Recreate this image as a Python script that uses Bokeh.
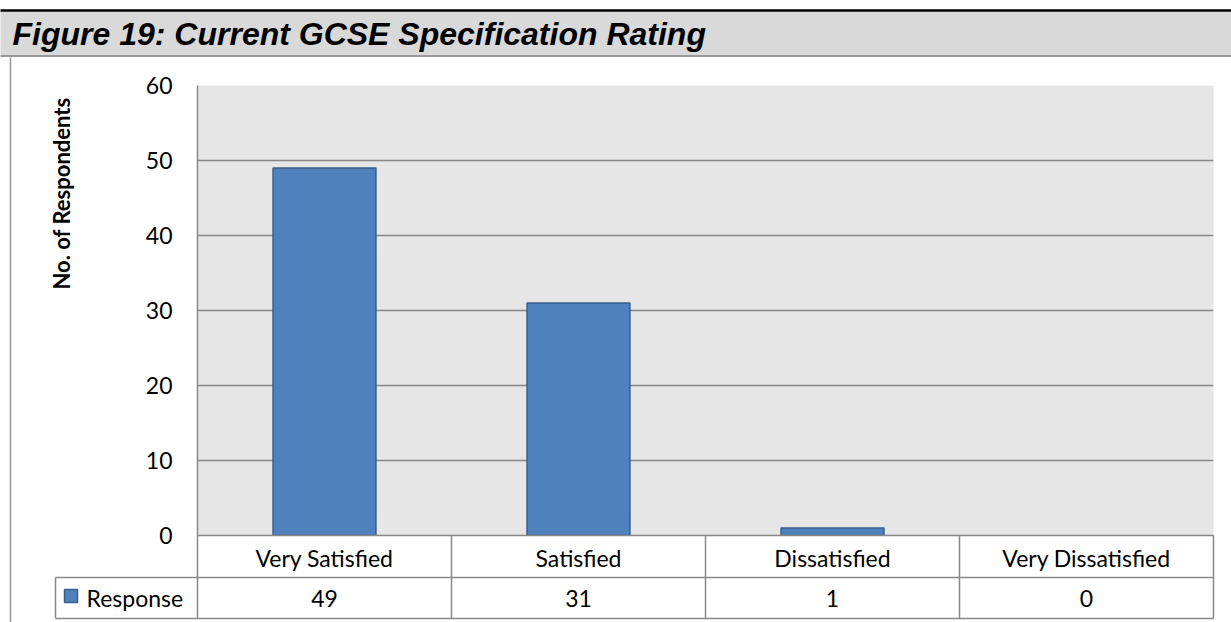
from math import pi
from bokeh.plotting import figure
from bokeh.models import FactorRange, Range1d, FixedTicker, ColumnDataSource
from bokeh.core.properties import value
from bokeh.embed import file_html
from bokeh.resources import INLINE

# ---------------- data ----------------
title_text = "Figure 19:  Current GCSE Specification Rating"
categories = ["Very Satisfied", "Satisfied", "Dissatisfied", "Very Dissatisfied"]
responses = [49, 31, 1, 0]
series_name = "Response"
y_ticks = [0, 10, 20, 30, 40, 50, 60]
y_label = "No. of Respondents"

# ---------------- layout (page pixels) ----------------
W, H = 1231, 622
PL, PT, PR, PB = 197, 85, 1213, 535   # plot frame in page pixels
FW, FH = PR - PL, PB - PT
NCAT = len(categories)
YMAX = y_ticks[-1]

def dx(px):
    return (px - PL) / FW * NCAT

def dy(py):
    return (PB - py) / FH * YMAX

GRID = "#888888"
BAR = "#4f81bd"
BAR_LINE = "#385d8a"
FONT = "Lato"
FS = "23px"

p = figure(width=W, height=H,
           x_range=FactorRange(factors=categories, range_padding=0, factor_padding=0),
           y_range=Range1d(0, YMAX),
           output_backend="svg", toolbar_location=None,
           min_border_left=PL, min_border_top=PT,
           min_border_right=W - PR, min_border_bottom=H - PB)
p.outline_line_color = None
p.background_fill_color = "#e6e6e6"
p.border_fill_color = "white"

# grid
p.xgrid.grid_line_color = None
p.ygrid.ticker = FixedTicker(ticks=y_ticks)
p.ygrid.grid_line_color = GRID
p.ygrid.grid_line_width = 1.5

# y axis
p.yaxis.ticker = FixedTicker(ticks=y_ticks)
p.yaxis.major_tick_out = 0
p.yaxis.major_tick_in = 0
p.yaxis.minor_tick_out = 0
p.yaxis.minor_tick_in = 0
p.yaxis.major_label_standoff = 25
p.yaxis.axis_line_color = GRID
p.yaxis.axis_line_width = 1.5
p.yaxis.major_label_text_font = FONT
p.yaxis.major_label_text_font_size = FS
p.yaxis.major_label_text_color = "black"

# x axis (category row of the data table)
p.xaxis.major_tick_out = 0
p.xaxis.major_tick_in = 0
p.xaxis.major_label_standoff = 8
p.xaxis.axis_line_color = GRID
p.xaxis.axis_line_width = 1.5
p.xaxis.major_label_text_font = FONT
p.xaxis.major_label_text_font_size = FS
p.xaxis.major_label_text_color = "black"

# bars
bar_src = ColumnDataSource(dict(
    x=categories, top=responses,
    la=[1.0 if v > 0 else 0.0 for v in responses]))
p.vbar(x="x", top="top", width=0.405, bottom=0, source=bar_src,
       fill_color=BAR, line_color=BAR_LINE, line_alpha="la", line_width=1.5)

# ---------------- title bar ----------------
p.quad(left=dx(0), right=dx(1240), top=dy(11), bottom=dy(55.5),
       fill_color="#d9d9d9", line_color=None, level="overlay")
p.segment(x0=dx(0), x1=dx(1240), y0=dy(10), y1=dy(10),
          line_color="black", line_width=2.5, level="overlay")
p.segment(x0=dx(0), x1=dx(1240), y0=dy(55.5), y1=dy(55.5),
          line_color="#999999", line_width=2, level="overlay")
p.text(x=[dx(12)], y=[dy(33)], text=[title_text],
       text_font=value("Liberation Sans"), text_font_style="bold italic",
       text_font_size="32px", text_align="left", text_baseline="middle",
       text_color="black", level="overlay")

# chart box left border
p.segment(x0=dx(10), x1=dx(10), y0=dy(57), y1=dy(640),
          line_color="#999999", line_width=1.5, level="overlay")

# y axis title
p.text(x=[dx(61)], y=[dy(193)], text=[y_label], angle=pi / 2,
       text_font=value(FONT), text_font_style="bold", text_font_size="22px",
       text_align="center", text_baseline="middle", text_color="black",
       level="overlay")

# ---------------- data table ----------------
ROW1, ROW2 = 577, 618
bounds = list(range(NCAT + 1))
p.segment(x0=bounds, x1=bounds, y0=[dy(PB)] * len(bounds), y1=[dy(ROW2)] * len(bounds),
          line_color=GRID, line_width=1.5, level="overlay")
p.segment(x0=[dx(55), dx(55)], x1=[dx(55), NCAT], y0=[dy(ROW1), dy(ROW2)],
          y1=[dy(ROW2), dy(ROW2)], line_color=GRID, line_width=1.5, level="overlay")
p.segment(x0=dx(55), x1=NCAT, y0=dy(ROW1), y1=dy(ROW1),
          line_color=GRID, line_width=1.5, level="overlay")

# legend key in table
p.quad(left=dx(64), right=dx(77), top=dy(589), bottom=dy(602),
       fill_color=BAR, line_color=BAR_LINE, line_width=1.5, level="overlay")
p.text(x=[dx(86)], y=[dy((ROW1 + ROW2) / 2)], text=[series_name],
       text_font=value(FONT), text_font_size=FS, text_align="left",
       text_baseline="middle", text_color="black", level="overlay")

# values row
p.text(x=categories, y=[dy((ROW1 + ROW2) / 2)] * NCAT, text=[str(v) for v in responses],
       text_font=value(FONT), text_font_size=FS, text_align="center",
       text_baseline="middle", text_color="black", level="overlay")

open("out.html", "w").write(file_html(p, INLINE))
